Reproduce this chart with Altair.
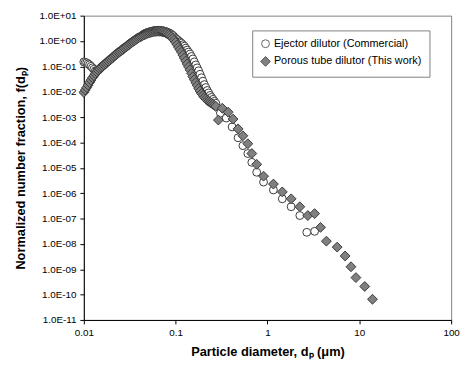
import altair as alt
import pandas as pd

SERIES = ["Ejector dilutor (Commercial)", "Porous tube dilutor (This work)"]

# SMPS-range diameters (um)
dp_smps = [0.01000, 0.01037, 0.01075, 0.01114, 0.01155, 0.01197, 0.01241, 0.01286, 0.01334, 0.01382,
           0.01433, 0.01486, 0.01540, 0.01596, 0.01655, 0.01715, 0.01778, 0.01843, 0.01911, 0.01981,
           0.02054, 0.02129, 0.02207, 0.02288, 0.02371, 0.02458, 0.02548, 0.02642, 0.02738, 0.02839,
           0.02943, 0.03051, 0.03162, 0.03278, 0.03398, 0.03523, 0.03652, 0.03786, 0.03924, 0.04068,
           0.04217, 0.04371, 0.04532, 0.04698, 0.04870, 0.05048, 0.05233, 0.05425, 0.05623, 0.05829,
           0.06043, 0.06264, 0.06494, 0.06732, 0.06978, 0.07234, 0.07499, 0.07774, 0.08058, 0.08354,
           0.08660, 0.08977, 0.09306, 0.09647, 0.1000, 0.1037, 0.1075, 0.1114, 0.1155, 0.1197,
           0.1241, 0.1286, 0.1334, 0.1382, 0.1433, 0.1486, 0.1540, 0.1596, 0.1655, 0.1715,
           0.1778, 0.1843, 0.1911, 0.1981, 0.2054, 0.2129, 0.2207, 0.2288, 0.2371, 0.2458,
           0.2548, 0.2642, 0.2738]

f_ejector_smps = [0.150, 0.143, 0.137, 0.125, 0.114, 0.100, 0.0875, 0.0765, 0.0669, 0.068,
                  0.070, 0.0798, 0.091, 0.1019, 0.114, 0.1277, 0.143, 0.160, 0.179, 0.2002,
                  0.224, 0.2504, 0.280, 0.313, 0.350, 0.3825, 0.418, 0.4676, 0.523, 0.5717,
                  0.625, 0.6991, 0.782, 0.8551, 0.935, 1.023, 1.12, 1.225, 1.34, 1.432,
                  1.53, 1.71, 1.91, 2.02, 2.13, 2.23, 2.33, 2.41, 2.50, 2.55,
                  2.61, 2.64, 2.66, 2.64, 2.61, 2.54, 2.48, 2.38, 2.27, 2.13,
                  2.00, 1.83, 1.67, 1.46, 1.28, 1.14, 1.02, 0.913, 0.818, 0.715,
                  0.625, 0.523, 0.438, 0.366, 0.306, 0.245, 0.196, 0.150, 0.114, 0.0873,
                  0.0669, 0.0489, 0.0357, 0.0261, 0.0191, 0.0146, 0.0112, 0.00895, 0.00715, 0.00598,
                  0.0050, 0.00418, 0.0035]

f_porous_smps = [0.0094, 0.01171, 0.0146, 0.01829, 0.0229, 0.02859, 0.0357, 0.04275, 0.0512, 0.05987,
                 0.070, 0.0798, 0.091, 0.1019, 0.114, 0.1277, 0.143, 0.160, 0.179, 0.2002,
                 0.224, 0.2504, 0.280, 0.313, 0.350, 0.3825, 0.418, 0.4676, 0.523, 0.5717,
                 0.625, 0.6991, 0.782, 0.8551, 0.935, 1.023, 1.12, 1.225, 1.34, 1.432,
                 1.53, 1.636, 1.75, 1.847, 1.95, 2.038, 2.13, 2.209, 2.29, 2.34,
                 2.39, 2.41, 2.43, 2.41, 2.39, 2.31, 2.23, 2.11, 2.00, 1.83,
                 1.67, 1.46, 1.28, 1.07, 0.894, 0.715, 0.572, 0.458, 0.366, 0.280,
                 0.214, 0.1636, 0.125, 0.0956, 0.0731, 0.0535, 0.0391, 0.0299, 0.0229, 0.0175,
                 0.0134, 0.0107, 0.00855, 0.00715, 0.00598, 0.00523, 0.00457, 0.00418, 0.00383, 0.00350,
                 0.00320, 0.00292, 0.00267]

# APS-range diameters (um)
dp_ejector_aps = [0.307, 0.355, 0.412, 0.478, 0.540, 0.611, 0.675, 0.763, 0.906, 1.16,
                  1.45, 1.81, 2.25, 2.68, 3.26]
f_ejector_aps = [1.43e-3, 9.15e-4, 4.09e-4, 1.53e-4, 7.48e-5, 3.66e-5, 1.64e-5, 6.68e-6, 2.74e-6, 1.34e-6,
                 5.98e-7, 2.92e-7, 1.31e-7, 2.86e-8, 3.13e-8]

dp_porous_aps = [0.292, 0.322, 0.373, 0.422, 0.478, 0.540, 0.611, 0.675, 0.763, 0.906,
                 1.16, 1.45, 1.81, 2.25, 2.75, 3.26, 3.78, 4.38, 5.74, 7.00,
                 8.11, 9.18, 11.45, 13.9]
f_porous_aps = [7.64e-4, 2.24e-3, 1.56e-3, 8.36e-4, 3.42e-4, 1.83e-4, 8.9e-5, 3.66e-5, 1.37e-5, 4.68e-6,
                2.29e-6, 1.12e-6, 5.98e-7, 2.92e-7, 1.31e-7, 1.56e-7, 4.47e-8, 1.28e-8, 7.48e-9, 3.34e-9,
                1.25e-9, 4.68e-10, 2.09e-10, 6.54e-11]

x_ticks = [0.01, 0.1, 1, 10, 100]
y_ticks = [1e-11, 1e-10, 1e-9, 1e-8, 1e-7, 1e-6, 1e-5, 1e-4, 1e-3, 1e-2, 1e-1, 1e0, 1e1]

rows = []
for d, f in zip(dp_smps + dp_ejector_aps, f_ejector_smps + f_ejector_aps):
    rows.append({"dp": d, "f": f, "series": SERIES[0]})
for d, f in zip(dp_smps + dp_porous_aps, f_porous_smps + f_porous_aps):
    rows.append({"dp": d, "f": f, "series": SERIES[1]})
for i, r in enumerate(rows):
    r["idx"] = i
df = pd.DataFrame(rows)

FONT = "Liberation Sans"

ylab = ("'1.0E' + (round(log(datum.value)/LN10) < 0 ? '-' : '+') + "
        "(abs(round(log(datum.value)/LN10)) < 10 ? '0' : '') + abs(round(log(datum.value)/LN10))")

legend = alt.Legend(title=None, orient="none", legendX=171, legendY=15,
                    strokeColor="#808080", fillColor="white", padding=8,
                    labelFont=FONT, labelFontSize=11, labelColor="#000",
                    symbolSize=22, symbolStrokeColor="#404040", symbolStrokeWidth=0.8,
                    rowPadding=4, labelOffset=3)

chart = alt.Chart(df).mark_point(filled=True, stroke="#3a3a3a", strokeWidth=1, opacity=1).encode(
    x=alt.X("dp:Q",
            scale=alt.Scale(type="log", domain=[0.01, 100], nice=False),
            axis=alt.Axis(values=x_ticks, format="~g", title="Particle diameter, dₚ (μm)",
                          labelPadding=4, titlePadding=8, labelFlush=False)),
    y=alt.Y("f:Q",
            scale=alt.Scale(type="log", domain=[1e-11, 10], nice=False),
            axis=alt.Axis(values=y_ticks, labelExpr=ylab, title="Normalized number fraction, f(dₚ)",
                          labelPadding=4, titlePadding=12, labelFlush=False)),
    color=alt.Color("series:N", scale=alt.Scale(domain=SERIES, range=["#ffffff", "#808080"]), legend=legend),
    shape=alt.Shape("series:N", scale=alt.Scale(domain=SERIES, range=["circle", "diamond"]), legend=legend),
    size=alt.Size("series:N", scale=alt.Scale(domain=SERIES, range=[64, 100]), legend=None),
    order=alt.Order("idx:Q"),
).properties(
    width=373, height=309,
    autosize=alt.AutoSizeParams(type="none"),
    padding={"left": 77, "top": 5, "right": 10, "bottom": 45},
).configure_view(
    stroke="#808080", strokeWidth=1
).configure_axis(
    grid=False, domainColor="#000", tickColor="#000", tickSize=4,
    labelFont=FONT, labelFontSize=10, labelColor="#000",
    titleFont=FONT, titleFontSize=13, titleFontWeight="bold", titleColor="#000",
)

chart.save("out.html", embed_options={"renderer": "svg", "actions": False})
